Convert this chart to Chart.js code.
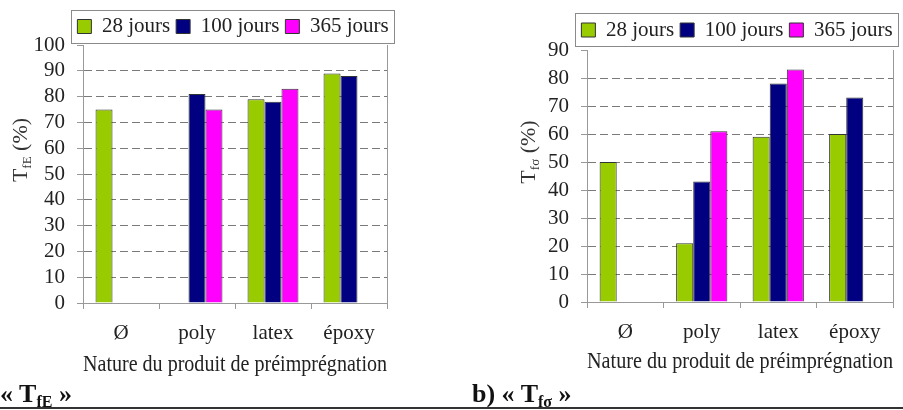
<!DOCTYPE html>
<html>
<head>
<meta charset="utf-8">
<script src="https://cdn.jsdelivr.net/npm/chart.js@4/dist/chart.umd.min.js"></script>
<style>
  html, body { margin: 0; padding: 0; background: #fff; overflow: hidden; width: 903px; height: 410px; }
  #c1 { position: absolute; left: 0; top: 0; }
  #c2 { position: absolute; left: 450px; top: 0; }
  .cap { position: absolute; top: 381px; font: bold 26px "Liberation Serif", serif; line-height: 26px; color: #111; white-space: nowrap; }
  .cap sub { font-size: 16px; vertical-align: -5px; line-height: 0; }
  #rule { position: absolute; left: 0; top: 407px; width: 903px; height: 2px; background: #333; }
</style>
</head>
<body>
<canvas id="c1" width="450" height="380"></canvas>
<canvas id="c2" width="453" height="380"></canvas>
<div class="cap" style="left:0px">« T<sub>fE</sub> »</div>
<div class="cap" style="left:472px">b) « T<sub>fσ</sub> »</div>
<div id="rule"></div>
<script>
// ---- data ----
const categories = ['Ø', 'poly', 'latex', 'époxy'];
const seriesLabels = ['28 jours', '100 jours', '365 jours'];
const tfE_28  = [75, null, 79, 89];
const tfE_100 = [null, 81, 78, 88];
const tfE_365 = [null, 75, 83, null];
const tfS_28  = [50, 21, 59, 60];
const tfS_100 = [null, 43, 78, 73];
const tfS_365 = [null, 61, 83, null];
const yMaxE = 100;
const yMaxS = 90;
const yStep = 10;
const xTitle = 'Nature du produit de préimprégnation';

const colors = ['#99CC00', '#000080', '#FF00FF'];
const FONT = '"Liberation Serif", "Times New Roman", serif';

const decor = {
  id: 'decor',
  beforeDraw(chart, args, o) {
    const lg = chart.legend;
    if (lg) {
      lg.left = o.legendCx - 300; lg.right = o.legendCx + 300;
      const p = lg.options.labels.padding;
      const fs = lg.options.labels.font.size;
      lg.top = o.legendCy - p - fs / 2;
    }
  },
  afterDraw(chart, args, o) {
    const { ctx, chartArea: ca, legend: lg } = chart;
    ctx.save();
    // right border of plot
    ctx.strokeStyle = '#999'; ctx.lineWidth = 1; ctx.setLineDash([]);
    const rx = Math.round(ca.right) + 0.5;
    ctx.beginPath(); ctx.moveTo(rx, ca.top); ctx.lineTo(rx, ca.bottom); ctx.stroke();
    // legend frame
    const p = lg.options.labels.padding;
    const w = lg.lineWidths[0] - p;
    const cy = o.legendCy;
    ctx.strokeStyle = '#8a8a8a';
    ctx.strokeRect(Math.round(o.legendCx - w / 2 - 6) + 0.5, Math.round(cy - 17) + 0.5, Math.round(w + 12), 33);
    // y title with subscript
    const parts = [
      { t: 'T', f: '22px ' + FONT, dy: 0 },
      { t: o.sub, f: '13px ' + FONT, dy: 4 },
      { t: ' (%)', f: '22px ' + FONT, dy: 0 }
    ];
    ctx.translate(o.titleX, o.titleY);
    ctx.rotate(-Math.PI / 2);
    let total = 0;
    parts.forEach(q => { ctx.font = q.f; q.w = ctx.measureText(q.t).width; total += q.w; });
    let x = -total / 2;
    ctx.fillStyle = '#333'; ctx.textBaseline = 'alphabetic'; ctx.textAlign = 'left';
    parts.forEach(q => { ctx.font = q.f; ctx.fillText(q.t, x, q.dy); x += q.w; });
    ctx.restore();
  }
};

function makeChart(id, d28, d100, d365, yMax, pad, xH, dec) {
  const vals = [d28, d100, d365];
  return new Chart(document.getElementById(id), {
    type: 'bar',
    data: {
      labels: categories,
      datasets: seriesLabels.map((lab, i) => ({
        label: lab,
        data: vals[i],
        backgroundColor: colors[i],
        borderColor: '#333',
        borderWidth: 1,
        barPercentage: 1,
        categoryPercentage: 0.67
      }))
    },
    options: {
      responsive: false,
      animation: false,
      layout: { padding: pad },
      plugins: {
        tooltip: { enabled: false },
        legend: {
          position: 'top',
          labels: {
            boxWidth: 14, boxHeight: 14, padding: 6, color: '#222',
            font: { family: FONT, size: 21 }
          }
        },
        decor: dec
      },
      scales: {
        x: {
          afterFit(s) { s.height = xH; },
          grid: { offset: true, drawOnChartArea: false, tickLength: 6, color: '#999', tickColor: '#999' },
          border: { color: '#999' },
          ticks: { color: '#222', padding: 12, font: { family: FONT, size: 21 } },
          title: { display: true, text: xTitle, color: '#222', padding: 0, font: { family: FONT, size: 23 } }
        },
        y: {
          min: 0, max: yMax,
          afterFit(s) { s.width = 50; },
          grid: {
            tickLength: 6,
            tickColor: '#999',
            color: c => (c.tick && (c.tick.value === 0 || c.tick.value === yMax)) ? 'rgba(0,0,0,0)' : '#7a7a7a'
          },
          border: { color: '#999', dash: [8, 4] },
          ticks: { stepSize: yStep, autoSkip: false, color: '#222', padding: 12, font: { family: FONT, size: 21 } }
        }
      }
    },
    plugins: [decor]
  });
}

makeChart('c1', tfE_28, tfE_100, tfE_365, yMaxE,
  { top: 8, left: 33, right: 63, bottom: 1 }, 76,
  { legendCx: 233, legendCy: 26.5, titleX: 27, titleY: 150, sub: 'fE' });
makeChart('c2', tfS_28, tfS_100, tfS_365, yMaxS,
  { top: 13, left: 87, right: 10, bottom: 4 }, 74,
  { legendCx: 287, legendCy: 30, titleX: 85, titleY: 152, sub: 'fσ' });
</script>
</body>
</html>
